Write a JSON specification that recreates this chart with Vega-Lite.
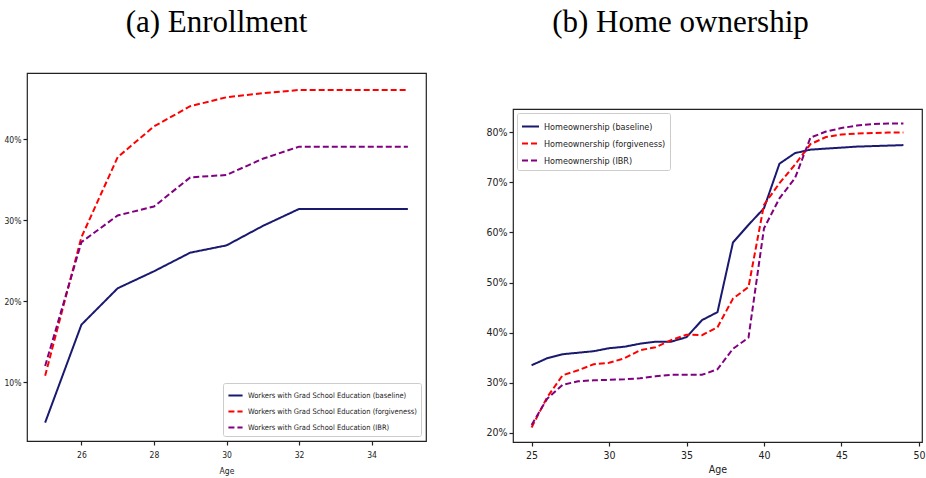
{
  "$schema": "https://vega.github.io/schema/vega-lite/v6.json",
  "padding": {"left": 3, "top": 6, "right": 0, "bottom": 0},
  "background": "white",
  "spacing": 58,
  "datasets": {
    "enroll": [
      {"age": 25, "value": 5.0, "series": "Workers with Grad School Education (baseline)"},
      {"age": 26, "value": 17.1, "series": "Workers with Grad School Education (baseline)"},
      {"age": 27, "value": 21.6, "series": "Workers with Grad School Education (baseline)"},
      {"age": 28, "value": 23.7, "series": "Workers with Grad School Education (baseline)"},
      {"age": 29, "value": 26.0, "series": "Workers with Grad School Education (baseline)"},
      {"age": 30, "value": 26.9, "series": "Workers with Grad School Education (baseline)"},
      {"age": 31, "value": 29.3, "series": "Workers with Grad School Education (baseline)"},
      {"age": 32, "value": 31.4, "series": "Workers with Grad School Education (baseline)"},
      {"age": 33, "value": 31.4, "series": "Workers with Grad School Education (baseline)"},
      {"age": 34, "value": 31.4, "series": "Workers with Grad School Education (baseline)"},
      {"age": 35, "value": 31.4, "series": "Workers with Grad School Education (baseline)"},
      {"age": 25, "value": 10.8, "series": "Workers with Grad School Education (forgiveness)"},
      {"age": 26, "value": 27.9, "series": "Workers with Grad School Education (forgiveness)"},
      {"age": 27, "value": 37.8, "series": "Workers with Grad School Education (forgiveness)"},
      {"age": 28, "value": 41.6, "series": "Workers with Grad School Education (forgiveness)"},
      {"age": 29, "value": 44.1, "series": "Workers with Grad School Education (forgiveness)"},
      {"age": 30, "value": 45.2, "series": "Workers with Grad School Education (forgiveness)"},
      {"age": 31, "value": 45.7, "series": "Workers with Grad School Education (forgiveness)"},
      {"age": 32, "value": 46.1, "series": "Workers with Grad School Education (forgiveness)"},
      {"age": 33, "value": 46.1, "series": "Workers with Grad School Education (forgiveness)"},
      {"age": 34, "value": 46.1, "series": "Workers with Grad School Education (forgiveness)"},
      {"age": 35, "value": 46.1, "series": "Workers with Grad School Education (forgiveness)"},
      {"age": 25, "value": 12.0, "series": "Workers with Grad School Education (IBR)"},
      {"age": 26, "value": 27.3, "series": "Workers with Grad School Education (IBR)"},
      {"age": 27, "value": 30.6, "series": "Workers with Grad School Education (IBR)"},
      {"age": 28, "value": 31.7, "series": "Workers with Grad School Education (IBR)"},
      {"age": 29, "value": 35.3, "series": "Workers with Grad School Education (IBR)"},
      {"age": 30, "value": 35.6, "series": "Workers with Grad School Education (IBR)"},
      {"age": 31, "value": 37.6, "series": "Workers with Grad School Education (IBR)"},
      {"age": 32, "value": 39.1, "series": "Workers with Grad School Education (IBR)"},
      {"age": 33, "value": 39.1, "series": "Workers with Grad School Education (IBR)"},
      {"age": 34, "value": 39.1, "series": "Workers with Grad School Education (IBR)"},
      {"age": 35, "value": 39.1, "series": "Workers with Grad School Education (IBR)"}
    ],
    "home": [
      {"age": 25, "value": 33.5, "series": "Homeownership (baseline)"},
      {"age": 26, "value": 34.9, "series": "Homeownership (baseline)"},
      {"age": 27, "value": 35.7, "series": "Homeownership (baseline)"},
      {"age": 28, "value": 36.0, "series": "Homeownership (baseline)"},
      {"age": 29, "value": 36.3, "series": "Homeownership (baseline)"},
      {"age": 30, "value": 36.9, "series": "Homeownership (baseline)"},
      {"age": 31, "value": 37.2, "series": "Homeownership (baseline)"},
      {"age": 32, "value": 37.8, "series": "Homeownership (baseline)"},
      {"age": 33, "value": 38.2, "series": "Homeownership (baseline)"},
      {"age": 34, "value": 38.2, "series": "Homeownership (baseline)"},
      {"age": 35, "value": 39.1, "series": "Homeownership (baseline)"},
      {"age": 36, "value": 42.5, "series": "Homeownership (baseline)"},
      {"age": 37, "value": 44.1, "series": "Homeownership (baseline)"},
      {"age": 38, "value": 58.0, "series": "Homeownership (baseline)"},
      {"age": 39, "value": 61.5, "series": "Homeownership (baseline)"},
      {"age": 40, "value": 64.8, "series": "Homeownership (baseline)"},
      {"age": 41, "value": 73.7, "series": "Homeownership (baseline)"},
      {"age": 42, "value": 75.8, "series": "Homeownership (baseline)"},
      {"age": 43, "value": 76.5, "series": "Homeownership (baseline)"},
      {"age": 44, "value": 76.7, "series": "Homeownership (baseline)"},
      {"age": 45, "value": 76.9, "series": "Homeownership (baseline)"},
      {"age": 46, "value": 77.1, "series": "Homeownership (baseline)"},
      {"age": 47, "value": 77.2, "series": "Homeownership (baseline)"},
      {"age": 48, "value": 77.3, "series": "Homeownership (baseline)"},
      {"age": 49, "value": 77.4, "series": "Homeownership (baseline)"},
      {"age": 25, "value": 21.1, "series": "Homeownership (forgiveness)"},
      {"age": 26, "value": 27.1, "series": "Homeownership (forgiveness)"},
      {"age": 27, "value": 31.5, "series": "Homeownership (forgiveness)"},
      {"age": 28, "value": 32.5, "series": "Homeownership (forgiveness)"},
      {"age": 29, "value": 33.7, "series": "Homeownership (forgiveness)"},
      {"age": 30, "value": 34.0, "series": "Homeownership (forgiveness)"},
      {"age": 31, "value": 34.9, "series": "Homeownership (forgiveness)"},
      {"age": 32, "value": 36.5, "series": "Homeownership (forgiveness)"},
      {"age": 33, "value": 37.1, "series": "Homeownership (forgiveness)"},
      {"age": 34, "value": 38.5, "series": "Homeownership (forgiveness)"},
      {"age": 35, "value": 39.6, "series": "Homeownership (forgiveness)"},
      {"age": 36, "value": 39.5, "series": "Homeownership (forgiveness)"},
      {"age": 37, "value": 41.1, "series": "Homeownership (forgiveness)"},
      {"age": 38, "value": 46.8, "series": "Homeownership (forgiveness)"},
      {"age": 39, "value": 49.1, "series": "Homeownership (forgiveness)"},
      {"age": 40, "value": 65.5, "series": "Homeownership (forgiveness)"},
      {"age": 41, "value": 69.8, "series": "Homeownership (forgiveness)"},
      {"age": 42, "value": 73.5, "series": "Homeownership (forgiveness)"},
      {"age": 43, "value": 77.6, "series": "Homeownership (forgiveness)"},
      {"age": 44, "value": 79.0, "series": "Homeownership (forgiveness)"},
      {"age": 45, "value": 79.5, "series": "Homeownership (forgiveness)"},
      {"age": 46, "value": 79.7, "series": "Homeownership (forgiveness)"},
      {"age": 47, "value": 79.8, "series": "Homeownership (forgiveness)"},
      {"age": 48, "value": 79.9, "series": "Homeownership (forgiveness)"},
      {"age": 49, "value": 79.9, "series": "Homeownership (forgiveness)"},
      {"age": 25, "value": 21.6, "series": "Homeownership (IBR)"},
      {"age": 26, "value": 26.8, "series": "Homeownership (IBR)"},
      {"age": 27, "value": 29.6, "series": "Homeownership (IBR)"},
      {"age": 28, "value": 30.3, "series": "Homeownership (IBR)"},
      {"age": 29, "value": 30.5, "series": "Homeownership (IBR)"},
      {"age": 30, "value": 30.6, "series": "Homeownership (IBR)"},
      {"age": 31, "value": 30.7, "series": "Homeownership (IBR)"},
      {"age": 32, "value": 30.9, "series": "Homeownership (IBR)"},
      {"age": 33, "value": 31.3, "series": "Homeownership (IBR)"},
      {"age": 34, "value": 31.6, "series": "Homeownership (IBR)"},
      {"age": 35, "value": 31.6, "series": "Homeownership (IBR)"},
      {"age": 36, "value": 31.6, "series": "Homeownership (IBR)"},
      {"age": 37, "value": 32.7, "series": "Homeownership (IBR)"},
      {"age": 38, "value": 36.8, "series": "Homeownership (IBR)"},
      {"age": 39, "value": 39.0, "series": "Homeownership (IBR)"},
      {"age": 40, "value": 60.8, "series": "Homeownership (IBR)"},
      {"age": 41, "value": 66.8, "series": "Homeownership (IBR)"},
      {"age": 42, "value": 70.8, "series": "Homeownership (IBR)"},
      {"age": 43, "value": 78.9, "series": "Homeownership (IBR)"},
      {"age": 44, "value": 80.1, "series": "Homeownership (IBR)"},
      {"age": 45, "value": 80.8, "series": "Homeownership (IBR)"},
      {"age": 46, "value": 81.3, "series": "Homeownership (IBR)"},
      {"age": 47, "value": 81.6, "series": "Homeownership (IBR)"},
      {"age": 48, "value": 81.7, "series": "Homeownership (IBR)"},
      {"age": 49, "value": 81.7, "series": "Homeownership (IBR)"}
    ]
  },
  "config": {
    "view": {"stroke": "#222", "strokeWidth": 1.2},
    "axis": {
      "domain": false, "grid": false, "tickColor": "#222", "tickSize": 4, "tickWidth": 1.2,
      "labelFont": "DejaVu Sans Condensed, Liberation Sans Narrow, Liberation Sans",
      "titleFont": "DejaVu Sans Condensed, Liberation Sans Narrow, Liberation Sans",
      "labelColor": "#222", "titleColor": "#222", "titleFontWeight": "normal"
    },
    "legend": {
      "labelFont": "DejaVu Sans Condensed, Liberation Sans Narrow, Liberation Sans",
      "labelColor": "#222", "symbolType": "stroke", "symbolStrokeWidth": 2, "labelLimit": 0,
      "strokeColor": "#cccccc", "fillColor": "white", "cornerRadius": 2, "padding": 4
    },
    "title": {"font": "Liberation Serif", "fontSize": 31, "fontWeight": "normal", "color": "black", "anchor": "middle"}
  },
  "resolve": {
    "scale": {"color": "independent", "strokeDash": "independent"},
    "legend": {"color": "independent", "strokeDash": "independent"}
  },
  "hconcat": [
    {
      "title": {"text": "(a) Enrollment", "offset": 34, "dx": -10},
      "width": 399,
      "height": 368,
      "data": {"name": "enroll"},
      "mark": {"type": "line", "strokeWidth": 2},
      "encoding": {
        "x": {"field": "age", "type": "quantitative", "scale": {"domain": [24.5, 35.5], "nice": false, "zero": false},
              "axis": {"values": [26, 28, 30, 32, 34], "title": "Age", "labelFontSize": 8.5, "titleFontSize": 8.5, "labelPadding": 5, "titlePadding": 8}},
        "y": {"field": "value", "type": "quantitative", "scale": {"domain": [2.73, 48.2], "nice": false, "zero": false},
              "axis": {"values": [10, 20, 30, 40], "title": null, "labelExpr": "datum.value + '%'", "labelFontSize": 8.5, "labelPadding": 2}},
        "color": {"field": "series", "type": "nominal",
                  "scale": {"domain": ["Workers with Grad School Education (baseline)", "Workers with Grad School Education (forgiveness)", "Workers with Grad School Education (IBR)"], "range": ["#191970", "#ff0000", "#800080"]},
                  "legend": {"title": null, "orient": "bottom-right", "offset": 5, "labelFontSize": 7.5, "symbolSize": 200, "rowPadding": 3}},
        "strokeDash": {"field": "series", "type": "nominal",
                  "scale": {"domain": ["Workers with Grad School Education (baseline)", "Workers with Grad School Education (forgiveness)", "Workers with Grad School Education (IBR)"], "range": [[1, 0], [6, 3], [6, 3]]},
                  "legend": {"title": null, "orient": "bottom-right", "offset": 5, "labelFontSize": 7.5, "symbolSize": 200, "rowPadding": 3}}
      }
    },
    {
      "spacing": 10,
      "resolve": {
        "scale": {"color": "independent", "strokeDash": "independent"},
        "legend": {"color": "independent", "strokeDash": "independent"}
      },
      "vconcat": [
        {
          "title": {"text": "(b) Home ownership", "offset": 34, "dx": -37},
          "width": 409,
          "height": 25,
          "view": {"stroke": null},
          "data": {"values": [{"label": ""}]},
          "mark": {"type": "text", "opacity": 0},
          "encoding": {"text": {"field": "label"}}
        },
        {
          "width": 409,
          "height": 333,
          "data": {"name": "home"},
          "mark": {"type": "line", "strokeWidth": 2},
          "encoding": {
            "x": {"field": "age", "type": "quantitative", "scale": {"domain": [23.8, 50.2], "nice": false, "zero": false},
                  "axis": {"values": [25, 30, 35, 40, 45, 50], "title": "Age", "labelFontSize": 10.5, "titleFontSize": 10.5, "labelPadding": 4, "titlePadding": 4}},
            "y": {"field": "value", "type": "quantitative", "scale": {"domain": [18.2, 84.6], "nice": false, "zero": false},
                  "axis": {"values": [20, 30, 40, 50, 60, 70, 80], "title": null, "labelExpr": "datum.value + '%'", "labelFontSize": 10.5, "labelPadding": 2}},
            "color": {"field": "series", "type": "nominal",
                      "scale": {"domain": ["Homeownership (baseline)", "Homeownership (forgiveness)", "Homeownership (IBR)"], "range": ["#191970", "#ff0000", "#800080"]},
                      "legend": {"title": null, "orient": "top-left", "offset": 4, "labelFontSize": 9, "symbolSize": 289, "rowPadding": 2}},
            "strokeDash": {"field": "series", "type": "nominal",
                      "scale": {"domain": ["Homeownership (baseline)", "Homeownership (forgiveness)", "Homeownership (IBR)"], "range": [[1, 0], [6, 3], [6, 3]]},
                      "legend": {"title": null, "orient": "top-left", "offset": 4, "labelFontSize": 9, "symbolSize": 289, "rowPadding": 2}}
          }
        }
      ]
    }
  ]
}
